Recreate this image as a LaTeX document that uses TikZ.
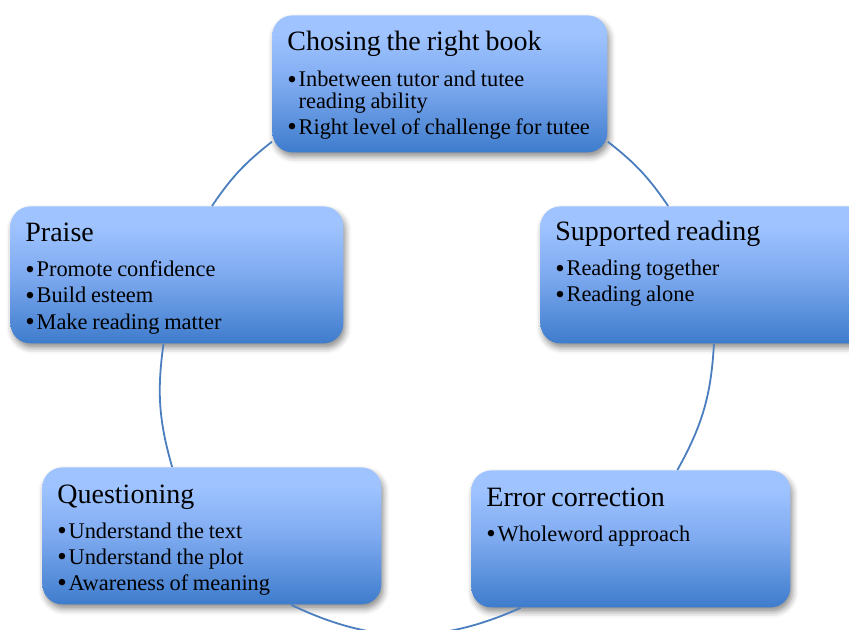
\documentclass[tikz,border=0pt]{standalone}
\usepackage{fontspec}
\usepackage{graphicx}
\setmainfont{Liberation Serif}[WordSpace=0.85]
\usetikzlibrary{shadows.blur}

\definecolor{fadetop}{RGB}{158,195,255}
\definecolor{fademid}{RGB}{126,170,240}
\definecolor{fadebot}{RGB}{62,124,204}
\definecolor{ringblue}{RGB}{74,126,190}
\pgfdeclareverticalshading{boxfade}{100bp}{color(0bp)=(fadebot); color(25bp)=(fadebot); color(50bp)=(fademid); color(68bp)=(fadetop); color(100bp)=(fadetop)}

\newcommand{\pnt}{\spaceskip=0pt\relax\makebox[5.6pt][l]{\raisebox{-0.05em}{\scalebox{1.2}{\textbullet}}}}

\tikzset{
  stage/.style={anchor=north west, rounded corners=10pt, shading=boxfade,
    minimum height=68.5pt, inner sep=0pt,
    blur shadow={shadow xshift=1pt, shadow yshift=-2.2pt, shadow blur radius=3pt, shadow opacity=45}},
  heading/.style={anchor=base west, inner sep=0pt, font=\fontsize{14}{16}\selectfont},
  points/.style={anchor=base west, inner sep=0pt, text width=165pt, align=left,
    font=\fontsize{11.2}{10.9}\selectfont},
  link/.style={draw=ringblue, line width=0.9pt}
}

\begin{document}
\begin{tikzpicture}[x=0.5pt,y=-0.5pt]
    \useasboundingbox (0,0) rectangle (849,630);
    % the five boxes
    \node[stage, minimum width=167.5pt] (book) at (272,15) {};
    \node[stage, minimum width=166.5pt] (praise) at (10,206) {};
    \node[stage, minimum width=167.5pt] (support) at (540,206) {};
    \node[stage, minimum width=169.5pt] (question) at (42,467) {};
    \node[stage, minimum width=159.5pt] (error) at (471,470) {};
    % titles
    \node[heading] (booktitle) at ([shift={(15,36)}]book.north west) {Chosing the right book};
    \node[heading] (praisetitle) at ([shift={(15,36)}]praise.north west) {Praise};
    \node[heading] (supporttitle) at ([shift={(15,35)}]support.north west) {Supported reading};
    \node[heading] (questiontitle) at ([shift={(15,36)}]question.north west) {Questioning};
    \node[heading] (errortitle) at ([shift={(15,36)}]error.north west) {Error correction};
    % bullet points
    \node[points] (booklist) at ([shift={(15,72)}]book.north west)
        {\pnt Inbetween tutor and tutee\\\hspace*{5.6pt}reading ability\\[2.1pt]\pnt Right level of challenge for tutee};
    \node[points] (praiselist) at ([shift={(15,71)}]praise.north west)
        {\pnt Promote confidence\\[2.1pt]\pnt Build esteem\\[2.1pt]\pnt Make reading matter};
    \node[points] (supportlist) at ([shift={(15,70)}]support.north west)
        {\pnt Reading together\\[2.1pt]\pnt Reading alone};
    \node[points] (questionlist) at ([shift={(15,71)}]question.north west)
        {\pnt Understand the text\\[2.1pt]\pnt Understand the plot\\[2.1pt]\pnt Awareness of meaning};
    \node[points] (errorlist) at ([shift={(15,71)}]error.north west)
        {\pnt Wholeword approach};
    % ring between the boxes
    \draw[link] (book.199) to[bend right=9] (praise.63);
    \draw[link] (book.-19) to[bend left=9] (support.120);
    \draw[link] (praise.-101) to[bend right=12] (question.120);
    \draw[link] (support.-85) to[bend left=13] (error.56);
    \draw[link] (question.-41) to[bend right=25] (error.212);
\end{tikzpicture}
\end{document}
